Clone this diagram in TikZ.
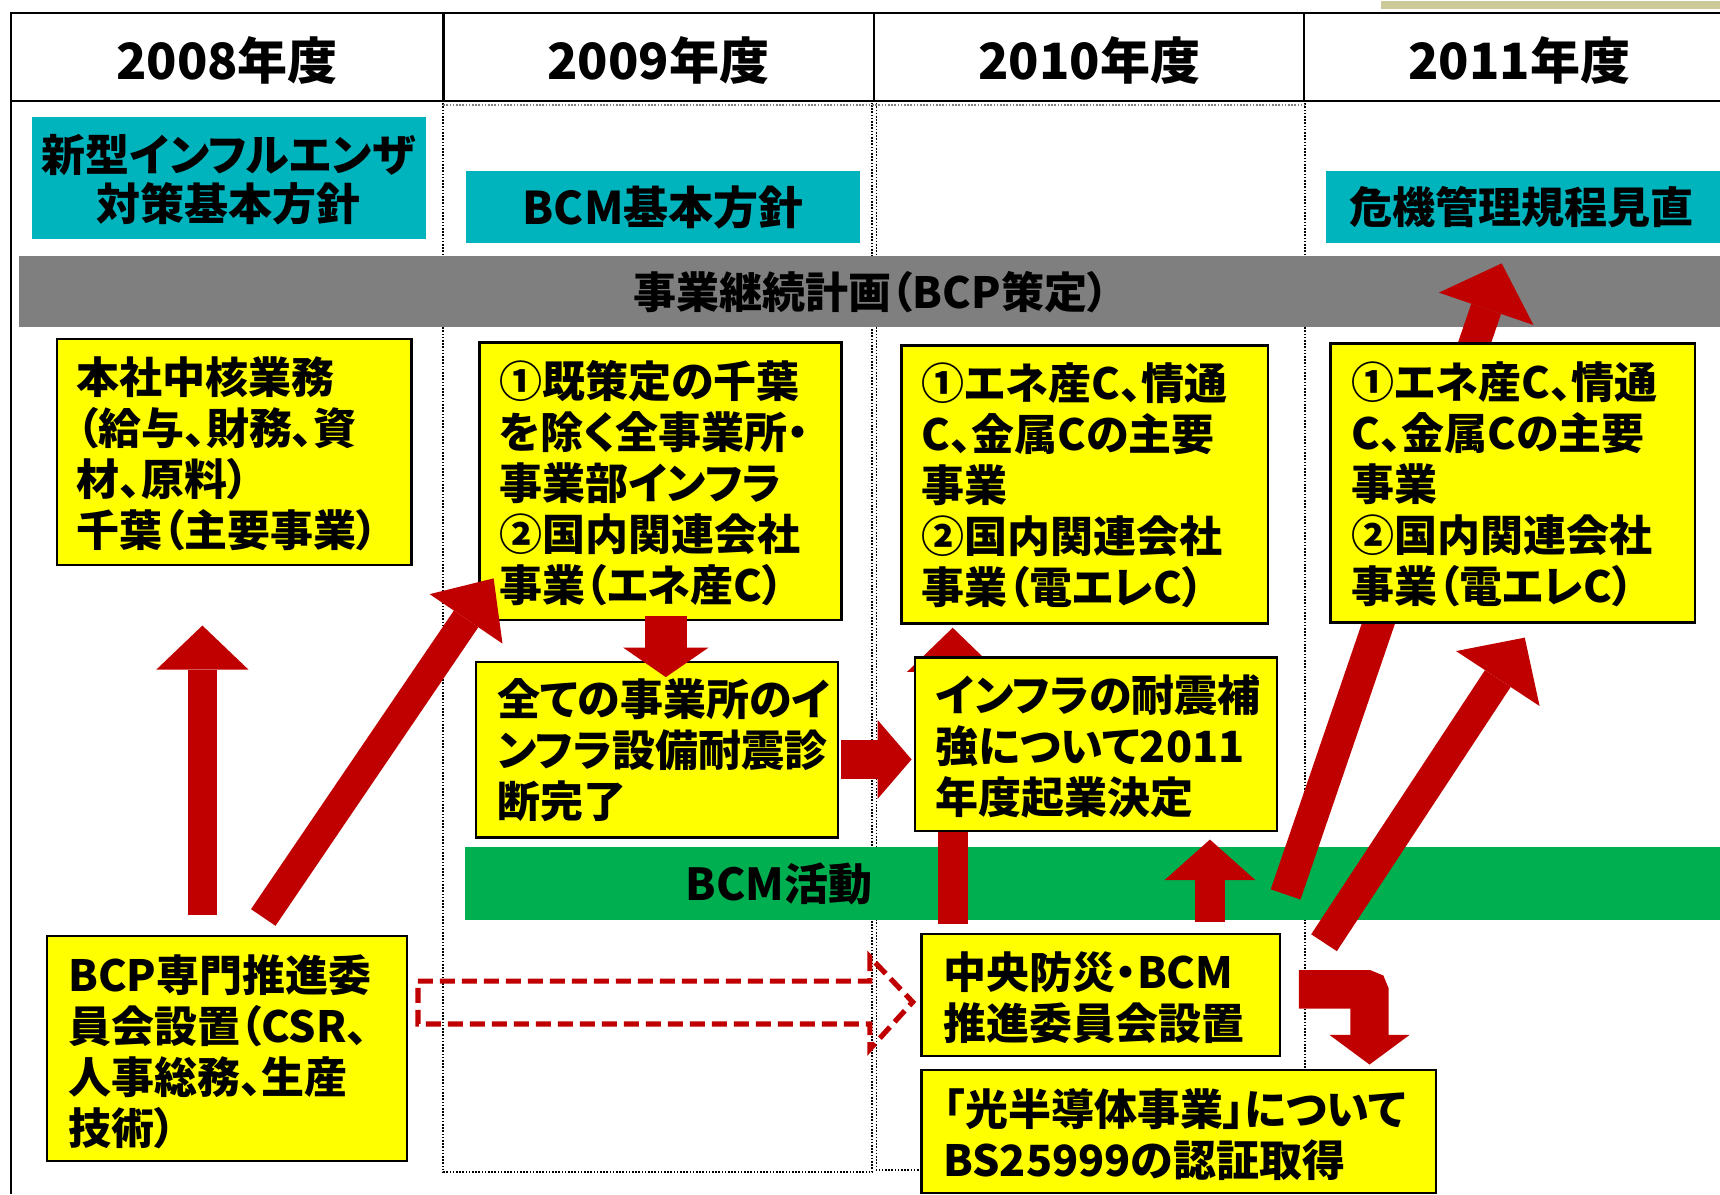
\documentclass[tikz,border=0pt]{standalone}
\usepackage{fontspec}
\setmainfont{Noto Sans CJK JP}[RawFeature=+palt, BoldFont={Noto Sans CJK JP Black}]
\usetikzlibrary{arrows.meta,fit}
\definecolor{cyanbox}{RGB}{0,180,190}
\definecolor{graybar}{RGB}{127,127,127}
\definecolor{greenbar}{RGB}{0,176,80}
\definecolor{arrowred}{RGB}{192,0,0}
\definecolor{khaki}{RGB}{204,202,153}
\definecolor{yfill}{RGB}{255,255,0}
\tikzset{
  ybox/.style={draw=black, line width=2.5pt, fill=yfill, inner sep=0pt},
  cbox/.style={fill=cyanbox, inner sep=0pt},
  gbar/.style={fill=graybar, inner sep=0pt},
  grbar/.style={fill=greenbar, inner sep=0pt},
  ytext/.style={anchor=west, align=left, inner sep=0pt, font=\fontsize{43}{51}\selectfont\bfseries},
  ctext/.style={align=center, inner sep=0pt, font=\fontsize{44}{49}\selectfont\bfseries},
  htext/.style={inner sep=0pt, font=\fontsize{50}{56}\selectfont\bfseries},
  grid/.style={draw=black, line width=2.5pt},
  dots/.style={draw=black, dash pattern=on 1.6pt off 1.6pt, line width=1.8pt},
  blk/.style n args={3}{draw=arrowred, line width=#1, -{Triangle[length=#3, width=#2, line width=0pt]}},
}
\begin{document}
\begin{tikzpicture}[x=1.0969pt, y=-1.0974pt]
\useasboundingbox (0,0) rectangle (1568,1088);
\clip (0,0) rectangle (1568,1088);
\fill[white] (0,0) rectangle (1568,1088);
% top right khaki bar
\fill[khaki] (1259,1) rectangle (1568,8);
% dotted column lines
\draw[dots] (404,94) -- (404,1068) -- (795,1068) -- (795,94);
\draw[dots] (799,94) -- (799,1066) -- (840,1066);
\draw[dots] (1190,94) -- (1190,975);
\draw[dots, draw=gray] (404,96) -- (1190,96);
% header grid
\draw[grid] (10,12) -- (1568,12);
\draw[grid] (10,92) -- (1568,92);
\draw[line width=2pt] (10,11) -- (10,1088);
\draw[line width=2.8pt] (404,12) -- (404,92);
\draw[line width=2pt] (797,12) -- (797,92);
\draw[line width=2pt] (1189,12) -- (1189,92);
\node[htext] (h1) at (207,55) {2008年度};
\node[htext] (h2) at (600,55) {2009年度};
\node[htext] (h3) at (993,55) {2010年度};
\node[htext] (h4) at (1385,55) {2011年度};
% cyan boxes
\node[cbox, fit={(29,107)(388,218)}] (c1) {};
\node[ctext] (c1t) at (208.5,163.5) {新型インフルエンザ\\対策基本方針};
\node[cbox, fit={(425,156)(784,221)}] (c2) {};
\node[ctext, font=\fontsize{45}{50}\selectfont\bfseries] (c2t) at (604.5,189) {BCM基本方針};
\node[cbox, fit={(1209,156)(1575,221)}] (c3) {};
\node[ctext, font=\fontsize{43}{50}\selectfont\bfseries] (c3t) at (1387,189) {危機管理規程見直};
% gray and green bars
\node[gbar, fit={(17,233)(1575,298)}] (bcp) {};
\node[ctext, font=\fontsize{43}{50}\selectfont\bfseries] (bcpt) at (794,266) {事業継続計画（BCP策定）};
\node[grbar, fit={(424,772)(1575,838)}] (bcm) {};
\node[ctext] (bcmt) at (710,805) {BCM活動};
% arrow coordinates
\coordinate (a1s) at (184.5,834); \coordinate (a1e) at (184.5,570);
\coordinate (a2s) at (240,836);   \coordinate (a2e) at (450,527);
\coordinate (a3s) at (607,561);   \coordinate (a3e) at (607,617);
\coordinate (a4s) at (767,692);   \coordinate (a4e) at (831,692);
\coordinate (a5s) at (868.5,842); \coordinate (a5e) at (868.5,572);
\coordinate (a6s) at (1103,840);  \coordinate (a6e) at (1103,765);
\coordinate (a7s) at (1172,815);  \coordinate (a7e) at (1369,240);
\coordinate (a8s) at (1207,859);  \coordinate (a8e) at (1390,581);
\coordinate (a9s) at (1184,901.5); \coordinate (a9m) at (1248.5,901.5); \coordinate (a9e) at (1248.5,970);
% arrows behind boxes
\draw[blk={29.6pt}{91pt}{44pt}] (a5s) -- (a5e);
\draw[blk={31.5pt}{100pt}{48pt}] (a7s) -- (a7e);
% yellow boxes
\node[ybox, fit={(52,309)(375,515)}] (A) {};
\node[ytext] (At) at (70,413.5) {本社中核業務\\（給与、財務、資\\材、原料）\\千葉（主要事業）};
\node[ybox, fit={(437,312)(767,565)}] (B) {};
\node[ytext] (Bt) at (455,440) {①既策定の千葉\\を除く全事業所・\\事業部インフラ\\②国内関連会社\\事業（エネ産C）};
\node[ybox, fit={(434,603)(764,763)}] (C) {};
\node[ytext] (Ct) at (453,683.5) {全ての事業所のイ\\ンフラ設備耐震診\\断完了};
\node[ybox, fit={(822,315)(1156,568)}] (D) {};
\node[ytext] (Dt) at (840,442.5) {①エネ産C、情通\\C、金属Cの主要\\事業\\②国内関連会社\\事業（電エレC）};
\node[ybox, fit={(834,599)(1164,757)}] (E) {};
\node[ytext] (Et) at (853,680.5) {インフラの耐震補\\強について2011\\年度起業決定};
\node[ybox, fit={(1213,313)(1545,567)}] (F) {};
\node[ytext] (Ft) at (1232,441) {①エネ産C、情通\\C、金属Cの主要\\事業\\②国内関連会社\\事業（電エレC）};
\node[ybox, fit={(43,853)(371,1058)}] (G) {};
\node[ytext] (Gt) at (62,958.5) {BCP専門推進委\\員会設置（CSR、\\人事総務、生産\\技術）};
\node[ybox, fit={(840,851)(1167,962)}] (H) {};
\node[ytext] (Ht) at (860,909) {中央防災・BCM\\推進委員会設置};
\node[ybox, fit={(840,975)(1309,1087)}] (I) {};
\node[ytext] (It) at (860,1034) {「光半導体事業」について\\BS25999の認証取得};
% arrows on top
\draw[blk={29.6pt}{92pt}{44pt}] (a1s) -- (a1e);
\draw[blk={29.6pt}{88pt}{49pt}] (a2s) -- (a2e);
\draw[blk={41.7pt}{85.6pt}{29.6pt}] (a3s) -- (a3e);
\draw[blk={39.5pt}{79pt}{34pt}] (a4s) -- (a4e);
\draw[blk={30.7pt}{91pt}{40.6pt}] (a6s) -- (a6e);
\draw[blk={30.7pt}{100pt}{49pt}] (a8s) -- (a8e);
\draw[blk={38.4pt}{80pt}{29.6pt}, rounded corners=3pt] (a9s) -- (a9m) -- (a9e);
% dashed hollow arrow
\coordinate (d1) at (381,894);
\coordinate (dtip) at (832,913);
\draw[arrowred, line width=5.2pt, dash pattern=on 15pt off 7pt]
  (d1) -- (793,894) -- (793,872) -- (dtip) -- (793,956) -- (793,933) -- (381,933) -- cycle;
\end{tikzpicture}
\end{document}
